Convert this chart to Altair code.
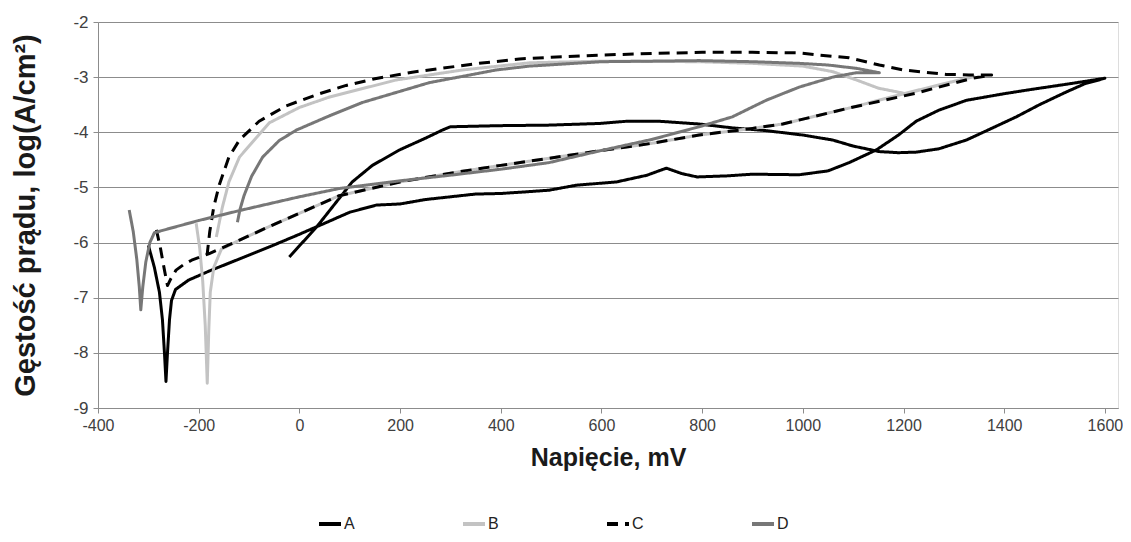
import altair as alt
import pandas as pd

# ---- data (x in mV, y = log current density) ----
A_x = [-300, -288, -278, -272, -268, -265, -262, -258, -254, -246, -220, -180, -120, -60, 0, 50, 100, 153, 200, 250,
       300, 350, 400, 450, 496, 550, 630, 690, 729, 760, 790, 850, 900, 993, 1050, 1092, 1146, 1190, 1225, 1270,
       1325, 1400, 1456, 1530, 1600,
       1560, 1523, 1470, 1424, 1370, 1325, 1270, 1225, 1190, 1152, 1100, 1059, 1000, 927, 860, 794, 715, 650, 596,
       496, 397, 300, 284, 252, 199, 145, 105, 79, 34, -20]
A_y = [-6.05, -6.45, -6.9, -7.4, -8.0, -8.52, -8.0, -7.4, -7.05, -6.85, -6.68, -6.52, -6.3, -6.08, -5.85, -5.65,
       -5.45, -5.32, -5.3, -5.22, -5.17, -5.12, -5.11, -5.08, -5.05, -4.96, -4.9, -4.78, -4.65, -4.75, -4.81, -4.79,
       -4.76, -4.77, -4.7, -4.55, -4.32, -4.05, -3.8, -3.6, -3.42, -3.3, -3.22, -3.12, -3.02,
       -3.12, -3.27, -3.5, -3.72, -3.95, -4.14, -4.3, -4.36, -4.37, -4.35, -4.25, -4.14, -4.05, -3.97, -3.92, -3.85,
       -3.8, -3.8, -3.84, -3.87, -3.88, -3.9, -3.96, -4.1, -4.32, -4.6, -4.9, -5.2, -5.72, -6.26]

B_x = [-205, -198, -192, -187, -183, -180, -177, -170, -155, -120, -60, 0, 79, 200, 308, 400, 497, 600, 700, 794,
       900, 960, 1092, 1205, 1280, 1340,
       1280, 1205, 1150, 1106, 1059, 1000, 900, 794, 600, 457, 324, 193, 60, 0, -60, -119, -140, -153, -165]
B_y = [-5.65, -6.1, -6.7, -7.5, -8.55, -7.6, -6.9, -6.45, -6.12, -5.96, -5.71, -5.47, -5.15, -4.9, -4.73, -4.6,
       -4.47, -4.33, -4.2, -4.05, -3.93, -3.85, -3.56, -3.29, -3.12, -2.99,
       -3.12, -3.3, -3.2, -3.05, -2.9, -2.8, -2.75, -2.72, -2.71, -2.74, -2.87, -3.05, -3.36, -3.55, -3.83, -4.45,
       -4.9, -5.36, -5.9]

C_x = [-284, -276, -268, -262, -255, -245, -230, -214, -179, -120, -60, 0, 79, 200, 308, 400, 497, 600, 700, 794,
       900, 960, 1092, 1225, 1337, 1375,
       1330, 1285, 1200, 1152, 1092, 1033, 993, 900, 800, 700, 600, 500, 437, 357, 224, 150, 93, 40, -26, -80, -119,
       -140, -159, -170, -178, -183]
C_y = [-5.77, -6.1, -6.5, -6.78, -6.65, -6.5, -6.4, -6.32, -6.2, -5.96, -5.71, -5.47, -5.15, -4.9, -4.73, -4.6,
       -4.47, -4.33, -4.2, -4.05, -3.93, -3.85, -3.56, -3.29, -3.02, -2.96,
       -2.96, -2.95, -2.87, -2.78, -2.65, -2.6, -2.56, -2.55, -2.55, -2.57, -2.6, -2.64, -2.67, -2.75, -2.91, -3.03,
       -3.15, -3.3, -3.52, -3.8, -4.14, -4.45, -4.95, -5.35, -5.8, -6.2]

D_x = [-338, -330, -323, -318, -315, -311, -305, -297, -288, -200, -119, 0, 79, 200, 298, 400, 496, 600, 700, 794,
       860, 927, 993, 1059, 1106, 1152,
       1106, 1050, 993, 900, 794, 600, 457, 391, 258, 125, 60, -6, -40, -73, -95, -110, -118, -123]
D_y = [-5.41, -5.8, -6.3, -6.8, -7.22, -6.8, -6.35, -6.0, -5.82, -5.6, -5.42, -5.17, -5.02, -4.88, -4.78, -4.67,
       -4.55, -4.33, -4.13, -3.9, -3.72, -3.42, -3.18, -3.0, -2.92, -2.92,
       -2.84, -2.78, -2.75, -2.72, -2.7, -2.72, -2.8, -2.87, -3.1, -3.46, -3.7, -3.96, -4.15, -4.45, -4.8, -5.15,
       -5.4, -5.63]

series_names = ["A", "B", "C", "D"]
series_colors = ["#000000", "#c3c3c3", "#000000", "#777777"]
series_dashes = [[1, 0], [1, 0], [11, 7], [1, 0]]
x_ticks = [-400, -200, 0, 200, 400, 600, 800, 1000, 1200, 1400, 1600]
y_ticks = [-9, -8, -7, -6, -5, -4, -3, -2]

rows = []
for name, xs, ys in [("A", A_x, A_y), ("B", B_x, B_y), ("C", C_x, C_y), ("D", D_x, D_y)]:
    for i, (xv, yv) in enumerate(zip(xs, ys)):
        rows.append({"series": name, "order": i, "x": xv, "y": yv})
df = pd.DataFrame(rows)

FONT = "Liberation Sans"
legend_kw = dict(
    title=None, orient="none", legendX=219, legendY=489, direction="horizontal",
    symbolType="stroke", symbolStrokeWidth=4, symbolSize=484,
    labelFont=FONT, labelFontSize=16, labelColor="#222222", labelOffset=1,
    columnPadding=100,
)

chart = alt.Chart(df).mark_line(strokeWidth=3, clip=True, strokeJoin="round").encode(
    x=alt.X("x:Q",
            scale=alt.Scale(domain=[-400, 1626], nice=False, zero=False),
            axis=alt.Axis(values=x_ticks, title="Napięcie, mV", grid=False, labelFlush=False,
                          labelExpr="toString(datum.value)", labelFont=FONT, labelFontSize=16,
                          labelColor="#404040", labelPadding=4, tickSize=5, tickColor="#8c8c8c",
                          domainColor="#8c8c8c", titleFont=FONT, titleFontSize=25, titleFontWeight="bold",
                          titleColor="#1a1a1a", titlePadding=12)),
    y=alt.Y("y:Q",
            scale=alt.Scale(domain=[-9, -2], nice=False, zero=False),
            axis=alt.Axis(values=y_ticks, title="Gęstość prądu, log(A/cm²)", grid=True,
                          gridColor="#8c8c8c", gridWidth=1,
                          labelExpr="toString(datum.value)", labelFont=FONT, labelFontSize=17,
                          labelColor="#404040", labelPadding=5, tickSize=5, tickColor="#8c8c8c",
                          domainColor="#8c8c8c", titleFont=FONT, titleFontSize=29, titleFontWeight="bold",
                          titleColor="#1a1a1a", titleX=-73, titleY=193, titleAngle=270,
                          titleAlign="center", titleBaseline="middle")),
    color=alt.Color("series:N", scale=alt.Scale(domain=series_names, range=series_colors),
                    legend=alt.Legend(**legend_kw)),
    strokeDash=alt.StrokeDash("series:N", scale=alt.Scale(domain=series_names, range=series_dashes),
                              legend=alt.Legend(**legend_kw)),
    order="order:Q",
).properties(
    width=1020, height=386,
    autosize=alt.AutoSizeParams(type="none"),
    padding={"left": 90, "top": 14, "right": 5, "bottom": 126},
).configure_view(stroke=None).configure(background="white")

chart.save("out.html", embed_options={"renderer": "svg", "actions": False})
